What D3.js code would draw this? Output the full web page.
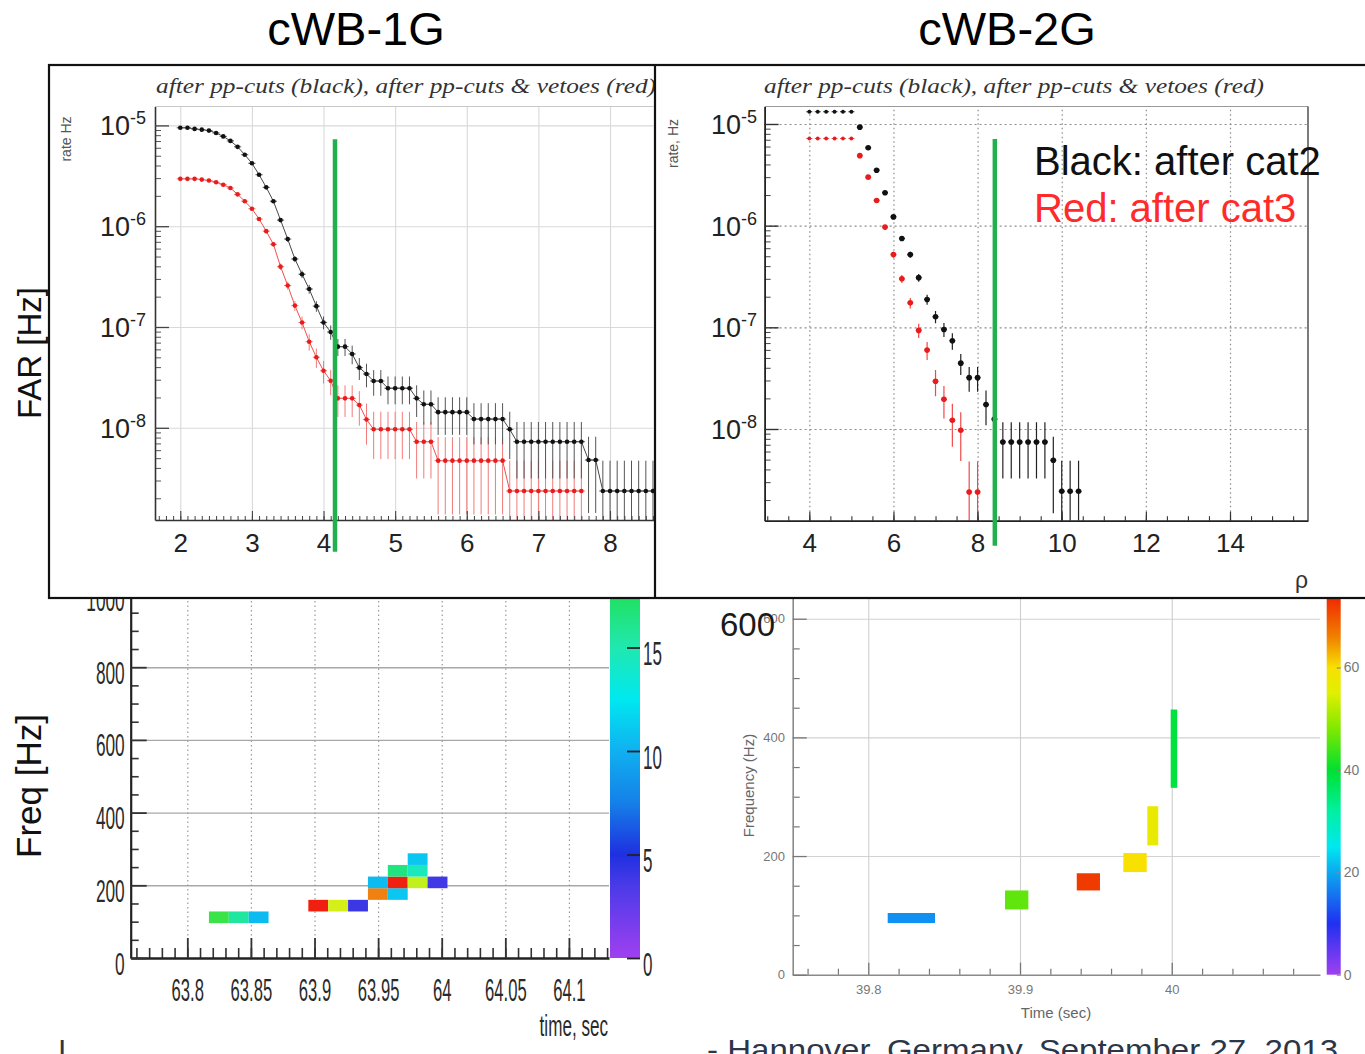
<!DOCTYPE html>
<html><head><meta charset="utf-8">
<script src="https://cdn.jsdelivr.net/npm/d3@7/dist/d3.min.js"></script>
<style>html,body{margin:0;padding:0;background:#fff;} svg{display:block;}</style>
</head><body>
<svg id="chart" width="1365" height="1054" xmlns="http://www.w3.org/2000/svg"></svg>
<script>
// ================= DATA =================
// --- cWB-1G FAR vs rho (bins of 0.1) ---
const rho1G = [2.0,2.1,2.2,2.3,2.4,2.5,2.6,2.7,2.8,2.9,3.0,3.1,3.2,3.3,3.4,3.5,3.6,3.7,3.8,3.9,
  4.0,4.1,4.2,4.3,4.4,4.5,4.6,4.7,4.8,4.9,5.0,5.1,5.2,5.3,5.4,5.5,5.6,5.7,5.8,5.9,
  6.0,6.1,6.2,6.3,6.4,6.5,6.6,6.7,6.8,6.9,7.0,7.1,7.2,7.3,7.4,7.5,7.6,7.7,7.8,7.9,
  8.0,8.1,8.2,8.3,8.4,8.5,8.6];
const black1G = [9.47e-6,9.47e-6,9.23e-6,9.08e-6,8.88e-6,8.41e-6,7.78e-6,7.02e-6,6.13e-6,5.12e-6,
  4.21e-6,3.24e-6,2.43e-6,1.77e-6,1.15e-6,7.45e-7,4.73e-7,3.34e-7,2.38e-7,1.61e-7,
  1.11e-7,8.91e-8,6.38e-8,6.38e-8,5.4e-8,3.95e-8,3.42e-8,2.91e-8,2.91e-8,2.47e-8,
  2.47e-8,2.47e-8,2.47e-8,1.96e-8,1.71e-8,1.71e-8,1.43e-8,1.43e-8,1.43e-8,1.43e-8,
  1.43e-8,1.22e-8,1.22e-8,1.22e-8,1.22e-8,1.22e-8,9.66e-9,7.28e-9,7.28e-9,7.28e-9,
  7.28e-9,7.28e-9,7.28e-9,7.28e-9,7.28e-9,7.28e-9,7.28e-9,4.79e-9,4.79e-9,2.36e-9,
  2.36e-9,2.36e-9,2.36e-9,2.36e-9,2.36e-9,2.36e-9,2.36e-9];
const black1GErr = [1.5e-7,1.5e-7,1.5e-7,1.5e-7,1.5e-7,1.4e-7,1.35e-7,1.3e-7,1.2e-7,1.1e-7,
  1.0e-7,8.7e-8,7.6e-8,6.5e-8,5.2e-8,4.2e-8,3.3e-8,2.8e-8,2.4e-8,1.95e-8,
  1.62e-8,1.45e-8,1.23e-8,1.23e-8,1.13e-8,9.7e-9,9.0e-9,8.3e-9,8.3e-9,7.6e-9,
  7.6e-9,7.6e-9,7.6e-9,6.8e-9,6.35e-9,6.35e-9,5.8e-9,5.8e-9,5.8e-9,5.8e-9,
  5.8e-9,5.35e-9,5.35e-9,5.35e-9,5.35e-9,5.35e-9,4.77e-9,4.14e-9,4.14e-9,4.14e-9,
  4.14e-9,4.14e-9,4.14e-9,4.14e-9,4.14e-9,4.14e-9,4.14e-9,3.36e-9,3.36e-9,2.36e-9,
  2.36e-9,2.36e-9,2.36e-9,2.36e-9,2.36e-9,2.36e-9,2.36e-9];
const rhoRed1G = rho1G.slice(0, 57);
const red1G = [2.95e-6,2.95e-6,2.95e-6,2.9e-6,2.84e-6,2.73e-6,2.58e-6,2.39e-6,2.07e-6,1.77e-6,
  1.49e-6,1.18e-6,8.93e-7,6.62e-7,3.97e-7,2.58e-7,1.63e-7,1.11e-7,7.15e-8,5.01e-8,
  3.68e-8,2.93e-8,1.96e-8,1.96e-8,1.96e-8,1.68e-8,1.21e-8,9.66e-9,9.66e-9,9.66e-9,
  9.66e-9,9.66e-9,9.66e-9,7.28e-9,7.28e-9,7.28e-9,4.72e-9,4.72e-9,4.72e-9,4.72e-9,
  4.72e-9,4.72e-9,4.72e-9,4.72e-9,4.72e-9,4.72e-9,2.36e-9,2.36e-9,2.36e-9,2.36e-9,
  2.36e-9,2.36e-9,2.36e-9,2.36e-9,2.36e-9,2.36e-9,2.36e-9];
const red1GErr = [8e-8,8e-8,8e-8,8e-8,8e-8,8e-8,7.5e-8,7.2e-8,6.7e-8,6.1e-8,
  5.6e-8,5e-8,4.3e-8,3.7e-8,2.9e-8,2.3e-8,1.85e-8,1.62e-8,1.3e-8,1.09e-8,
  9.3e-9,8.3e-9,6.8e-9,6.8e-9,6.8e-9,6.3e-9,5.3e-9,4.77e-9,4.77e-9,4.77e-9,
  4.77e-9,4.77e-9,4.77e-9,4.14e-9,4.14e-9,4.14e-9,3.34e-9,3.34e-9,3.34e-9,3.34e-9,
  3.34e-9,3.34e-9,3.34e-9,3.34e-9,3.34e-9,3.34e-9,2.36e-9,2.36e-9,2.36e-9,2.36e-9,
  2.36e-9,2.36e-9,2.36e-9,2.36e-9,2.36e-9,2.36e-9,2.36e-9];
const xTicks1G = [2,3,4,5,6,7,8];
const threshold1G = 4.16;              // green line position (rho)
const greenSpan1G = [7.3e-6, 5.9e-10]; // green line top / bottom (rate)

// --- cWB-2G FAR vs rho (bins of 0.2) ---
const rho2G = [4.0,4.2,4.4,4.6,4.8,5.0,5.2,5.4,5.6,5.8,6.0,6.2,6.4,6.6,6.8,7.0,7.2,7.4,7.6,7.8,
  8.0,8.2,8.4,8.6,8.8,9.0,9.2,9.4,9.6,9.8,10.0,10.2,10.4];
const black2G = [1.32e-5,1.32e-5,1.32e-5,1.32e-5,1.32e-5,1.32e-5,9.31e-6,5.83e-6,3.51e-6,2.11e-6,
  1.22e-6,7.48e-7,5.19e-7,3.08e-7,1.88e-7,1.27e-7,9.53e-8,7.38e-8,4.44e-8,3.2e-8,
  3.2e-8,1.74e-8,1.25e-8,7.46e-9,7.46e-9,7.46e-9,7.46e-9,7.46e-9,7.46e-9,4.93e-9,
  2.44e-9,2.44e-9,2.44e-9];
const black2GErr = [1.8e-7,1.8e-7,1.8e-7,1.8e-7,1.8e-7,1.8e-7,1.5e-7,1.19e-7,9.3e-8,7.2e-8,
  5.5e-8,4.3e-8,3.56e-8,2.74e-8,2.14e-8,1.76e-8,1.52e-8,1.35e-8,1.04e-8,8.8e-9,
  8.8e-9,6.5e-9,5.5e-9,4.2e-9,4.2e-9,4.2e-9,4.2e-9,4.2e-9,4.2e-9,3.45e-9,
  2.44e-9,2.44e-9,2.44e-9];
const rhoRed2G = rho2G.slice(0, 21);
const red2G = [7.2e-6,7.2e-6,7.2e-6,7.2e-6,7.2e-6,7.2e-6,4.88e-6,3.0e-6,1.77e-6,9.68e-7,
  5.19e-7,3.0e-7,1.74e-7,9.33e-8,5.97e-8,2.95e-8,1.96e-8,1.22e-8,9.73e-9,2.4e-9,2.4e-9];
const red2GErr = [1.3e-7,1.3e-7,1.3e-7,1.3e-7,1.3e-7,1.3e-7,1.1e-7,8.6e-8,6.6e-8,4.9e-8,
  3.6e-8,2.7e-8,2.07e-8,1.5e-8,1.2e-8,8.5e-9,6.9e-9,5.5e-9,4.9e-9,2.4e-9,2.4e-9];
const xTicks2G = [4,6,8,10,12,14];
const threshold2G = 8.41;
const greenSpan2G = [7.1e-6, 7.1e-10];

const yExps = [-5,-6,-7,-8];

// --- cWB-1G spectrogram (tiles 1/64 s x 32 Hz) ---
const tileDt1G = 0.015625, tileDf1G = 32;
const specT1G = [63.8170,63.83263,63.84825, 63.89513,63.91075,63.92638,
  63.9420,63.9420, 63.95763,63.95763,63.95763, 63.97325,63.97325,63.97325, 63.98888];
const specF1G = [96,96,96, 128,128,128, 160,192, 160,192,224, 192,224,256, 192];
const specZ1G = [18.5,15.5,10.5, 29,22.5,4, 26.5,10.5, 11,29,16.5, 21.5,14.5,11, 3.8];
const timeTicks1G = [63.8,63.85,63.9,63.95,64.0,64.05,64.1];
const timeLabels1G = ['63.8','63.85','63.9','63.95','64','64.05','64.1'];
const freqTicks1G = [0,200,400,600,800,1000];
const cbTicks1G = [0,5,10,15];
const pal1Stops = [0,3.5,5,7.5,10,12.5,15,18,21,24,26.5,29,32];
const pal1Colors = ['#a040f0','#4a3ae8','#1e30e0','#1580e8','#10b0f0','#00e8f0','#20e8b0','#20e050','#b8f020','#f0f010','#f08010','#f02010','#f02010'];

// --- cWB-2G spectrogram (multi-resolution tiles) ---
const specT0_2G = [39.8128,39.8901,39.9374,39.9681,39.9839,39.9993];
const specT1_2G = [39.8440,39.9055,39.9527,39.9835,39.9911,40.0036];
const specF0_2G = [87,110,142,173,218,315];
const specF1_2G = [104,142,171,205,284,447];
const specZ2G = [18,46,72,60,57,39];
const timeTicks2G = [39.8,39.9,40.0];
const timeLabels2G = ['39.8','39.9','40'];
const freqTicks2G = [0,200,400,600];
const cbTicks2G = [0,20,40,60];
const pal2Stops = [0,10,18,25,32,40,48,55,60,66,73,76];
const pal2Colors = ['#a040f0','#2030f0','#1090f0','#00e8f0','#00f0a0','#00e030','#80e800','#e0f000','#f8e000','#f08000','#f03000','#f02000'];

// ================= DRAW =================
const SANS = "'Liberation Sans', Arial, Helvetica, sans-serif";
const SERIF = "'Liberation Serif', 'Times New Roman', serif";
const GREEN = '#22b04e';
const svg = d3.select('#chart');
svg.append('rect').attr('width',1365).attr('height',1054).attr('fill','#fff');
const defs = svg.append('defs');

function cleanAxis(g, color, w) {
  g.select('.domain').remove();
  g.selectAll('.tick line').attr('stroke', color).attr('stroke-width', w);
}

// ---------- bottom-left spectrogram ----------
const x3 = d3.scaleLinear().domain([63.7555, 64.1315]).range([130.7, 609]);
const y3 = d3.scaleLinear().domain([0, 1000]).range([958, 594.5]);
const pal1 = d3.scaleLinear().domain(pal1Stops).range(pal1Colors).clamp(true);
const BL = svg.append('g');
BL.append('g').attr('transform','translate(130.7,0)')
  .call(d3.axisLeft(y3).tickValues(freqTicks1G.slice(1,5)).tickSize(-(609-130.7)).tickFormat(''))
  .call(g=>cleanAxis(g,'#a8a8a8',1.4));
BL.append('g').attr('transform','translate(0,958)')
  .call(d3.axisBottom(x3).tickValues(timeTicks1G).tickSize(-(958-594.5)).tickFormat(''))
  .call(g=>{cleanAxis(g,'#9a9a9a',1.2); g.selectAll('.tick line').attr('stroke-dasharray','1.5,3');});
BL.selectAll('rect.cell').data(specZ1G).join('rect').attr('class','cell')
  .attr('x',(d,i)=>x3(specT1G[i])).attr('width',(d,i)=>x3(specT1G[i]+tileDt1G)-x3(specT1G[i]))
  .attr('y',(d,i)=>y3(specF1G[i]+tileDf1G)).attr('height',(d,i)=>y3(specF1G[i])-y3(specF1G[i]+tileDf1G))
  .attr('fill',d=>pal1(d));
// minor x ticks
BL.append('g').attr('transform','translate(0,958)')
  .call(d3.axisBottom(x3).tickValues(d3.range(6376,6414).map(d=>d/100)).tickSize(-10).tickFormat(''))
  .call(g=>cleanAxis(g,'#333',1.6));
const gx3 = BL.append('g').attr('transform','translate(0,958)')
  .call(d3.axisBottom(x3).tickValues(timeTicks1G).tickSize(-20).tickSizeOuter(0).tickPadding(20).tickFormat((d,i)=>timeLabels1G[i]));
gx3.select('.domain').attr('stroke','#222').attr('stroke-width',2.4);
gx3.selectAll('.tick line').attr('stroke','#333').attr('stroke-width',1.8);
gx3.selectAll('text').attr('font-size',32).attr('font-family',SANS).attr('fill','#2a2a2a').attr('transform','scale(0.52,1)');
// y minor
BL.append('g').attr('transform','translate(130.7,0)')
  .call(d3.axisLeft(y3).tickValues(d3.range(1,20).map(d=>d*50).filter(d=>d%200)).tickSize(-8).tickFormat(''))
  .call(g=>cleanAxis(g,'#333',1.6));
const gy3 = BL.append('g').attr('transform','translate(130.7,0)')
  .call(d3.axisLeft(y3).tickValues(freqTicks1G).tickSize(-16).tickSizeOuter(0).tickFormat(d=>d));
gy3.select('.domain').attr('stroke','#222').attr('stroke-width',2.2);
gy3.selectAll('.tick line').attr('stroke','#333').attr('stroke-width',1.8);
gy3.selectAll('text').attr('font-size',32).attr('font-family',SANS).attr('fill','#2a2a2a')
  .attr('x',-6/0.54).attr('dy','0.5em').attr('transform','scale(0.54,1)');
// colorbar
const cb1Max = pal1Stops[pal1Stops.length-1];
const cb1 = d3.scaleLinear().domain([0, cb1Max]).range([958, 958-cb1Max*20.7]);
const grad1 = defs.append('linearGradient').attr('id','grad1').attr('gradientUnits','userSpaceOnUse')
  .attr('x1',0).attr('x2',0).attr('y1',cb1(0)).attr('y2',cb1(cb1Max));
grad1.selectAll('stop').data(pal1Stops).join('stop').attr('offset',d=>d/cb1Max).attr('stop-color',(d,i)=>pal1Colors[i]);
BL.append('rect').attr('x',610).attr('width',30).attr('y',cb1(cb1Max)).attr('height',cb1(0)-cb1(cb1Max)).attr('fill','url(#grad1)');
const gcb1 = BL.append('g').attr('transform','translate(640,0)')
  .call(d3.axisRight(cb1).tickValues(cbTicks1G).tickSize(-13).tickSizeOuter(0).tickPadding(3));
gcb1.select('.domain').remove();
gcb1.selectAll('.tick line').attr('stroke','#222').attr('stroke-width',1.8);
gcb1.selectAll('text').attr('font-size',34).attr('font-family',SANS).attr('fill','#2a2a2a')
  .attr('x',3/0.5).attr('dy','0.5em').attr('transform','scale(0.5,1)');
BL.append('text').attr('transform','translate(608,1036) scale(0.57,1)').attr('text-anchor','end')
  .attr('font-size',30).attr('font-family',SANS).attr('fill','#2a2a2a').text('time, sec');
svg.append('text').attr('transform','translate(41,786) rotate(-90)').attr('text-anchor','middle')
  .attr('font-size',35).attr('font-family',SANS).attr('fill','#111').text('Freq [Hz]');

// ---------- bottom-right spectrogram ----------
const x4 = d3.scaleLinear().domain([39.7502, 40.0977]).range([792.7, 1320]);
const y4 = d3.scaleLinear().domain([0, 640]).range([974.7, 595.0]);
const pal2 = d3.scaleLinear().domain(pal2Stops).range(pal2Colors).clamp(true);
const BR = svg.append('g');
BR.append('g').attr('transform','translate(792.7,0)')
  .call(d3.axisLeft(y4).tickValues(freqTicks2G.slice(1)).tickSize(-(1320-792.7)).tickFormat(''))
  .call(g=>cleanAxis(g,'#d2d2d2',1.1));
BR.append('g').attr('transform','translate(0,974.7)')
  .call(d3.axisBottom(x4).tickValues(timeTicks2G).tickSize(-(974.7-595)).tickFormat(''))
  .call(g=>cleanAxis(g,'#cfcfcf',1.1));
BR.selectAll('rect.cell').data(specZ2G).join('rect').attr('class','cell')
  .attr('x',(d,i)=>x4(specT0_2G[i])).attr('width',(d,i)=>x4(specT1_2G[i])-x4(specT0_2G[i]))
  .attr('y',(d,i)=>y4(specF1_2G[i])).attr('height',(d,i)=>y4(specF0_2G[i])-y4(specF1_2G[i]))
  .attr('fill',d=>pal2(d));
BR.append('g').attr('transform','translate(0,974.7)')
  .call(d3.axisBottom(x4).tickValues(d3.range(1988,2005).map(d=>d/50).filter(d=>Math.abs(d*10-Math.round(d*10))>1e-6)).tickSize(-6).tickFormat(''))
  .call(g=>cleanAxis(g,'#777',1.2));
const gx4 = BR.append('g').attr('transform','translate(0,974.7)')
  .call(d3.axisBottom(x4).tickValues(timeTicks2G).tickSize(-12).tickSizeOuter(0).tickPadding(10).tickFormat((d,i)=>timeLabels2G[i]));
gx4.select('.domain').attr('stroke','#8a8a8a').attr('stroke-width',1.6);
gx4.selectAll('.tick line').attr('stroke','#777').attr('stroke-width',1.3);
gx4.selectAll('text').attr('font-size',13).attr('font-family',SANS).attr('fill','#777');
BR.append('g').attr('transform','translate(792.7,0)')
  .call(d3.axisLeft(y4).tickValues(d3.range(1,13).map(d=>d*50).filter(d=>d%200)).tickSize(-7).tickFormat(''))
  .call(g=>cleanAxis(g,'#777',1.2));
const gy4 = BR.append('g').attr('transform','translate(792.7,0)')
  .call(d3.axisLeft(y4).tickValues(freqTicks2G).tickSize(-14).tickSizeOuter(0).tickPadding(7.7).tickFormat(d=>d));
gy4.select('.domain').attr('stroke','#8a8a8a').attr('stroke-width',1.6);
gy4.selectAll('.tick line').attr('stroke','#777').attr('stroke-width',1.3);
gy4.selectAll('text').attr('font-size',13).attr('font-family',SANS).attr('fill','#777');
const cb2Max = pal2Stops[pal2Stops.length-1];
const cb2 = d3.scaleLinear().domain([0, cb2Max]).range([974.7, 974.7-cb2Max*5.12]);
const grad2 = defs.append('linearGradient').attr('id','grad2').attr('gradientUnits','userSpaceOnUse')
  .attr('x1',0).attr('x2',0).attr('y1',cb2(0)).attr('y2',cb2(cb2Max));
grad2.selectAll('stop').data(pal2Stops).join('stop').attr('offset',d=>d/cb2Max).attr('stop-color',(d,i)=>pal2Colors[i]);
BR.append('rect').attr('x',1326.7).attr('width',14).attr('y',cb2(cb2Max)).attr('height',cb2(0)-cb2(cb2Max)).attr('fill','url(#grad2)');
const gcb2 = BR.append('g').attr('transform','translate(1340.7,0)')
  .call(d3.axisRight(cb2).tickValues(cbTicks2G).tickSize(-4).tickSizeOuter(0).tickPadding(3));
gcb2.select('.domain').remove();
gcb2.selectAll('.tick line').attr('stroke','#888').attr('stroke-width',1.2);
gcb2.selectAll('text').attr('font-size',14).attr('font-family',SANS).attr('fill','#777');
BR.append('text').attr('transform','translate(754,785.5) rotate(-90)').attr('text-anchor','middle')
  .attr('font-size',15).attr('font-family',SANS).attr('fill','#666').text('Frequency (Hz)');
BR.append('text').attr('x',1056).attr('y',1018).attr('text-anchor','middle')
  .attr('font-size',15).attr('font-family',SANS).attr('fill','#666').text('Time (sec)');
BR.append('text').attr('x',720).attr('y',636).attr('font-size',33).attr('font-family',SANS)
  .attr('fill','#1a1a1a').text('600');

// bottom caption (cut off at the page edge)
svg.append('text').attr('x',707).attr('y',1060).attr('font-size',30).attr('font-family',SANS)
  .attr('fill','#2b3648').attr('textLength',631).attr('lengthAdjust','spacingAndGlyphs')
  .text('- Hannover, Germany, September 27, 2013');
svg.append('text').attr('x',58).attr('y',1060).attr('font-size',30).attr('font-family',SANS)
  .attr('fill','#2b3648').text('I');

// ---------- top box ----------
svg.append('rect').attr('x',49).attr('y',65).attr('width',1330).attr('height',533)
  .attr('fill','#fff').attr('stroke','#111').attr('stroke-width',2.2);
svg.append('line').attr('x1',655).attr('x2',655).attr('y1',65).attr('y2',598).attr('stroke','#111').attr('stroke-width',2.2);

defs.append('clipPath').attr('id','panelTL').append('rect').attr('x',50).attr('y',66).attr('width',604).attr('height',531);
defs.append('clipPath').attr('id','plotTL').append('rect').attr('x',155).attr('y',104).attr('width',499).attr('height',416);
defs.append('clipPath').attr('id','plotTR').append('rect').attr('x',764.6).attr('y',104).attr('width',543.4).attr('height',416.7);

function drawSeries(g, xs, ys, errs, xS, yS, o) {
  const pts = xs.map((x,i)=>({x, y: ys[i], e: errs[i], i}));
  const yBot = yS.range()[0], yMin = yS.domain()[0];
  if (o.line) g.append('path').datum(pts)
    .attr('d', d3.line().x(d=>xS(d.x)).y(d=>yS(d.y)))
    .attr('fill','none').attr('stroke',o.line).attr('stroke-width',o.lw);
  g.selectAll(null).data(pts).join('line')
    .attr('x1',d=>xS(d.x)).attr('x2',d=>xS(d.x))
    .attr('y1',d=>yS(d.y+d.e)).attr('y2',d=> (d.y-d.e) > yMin ? yS(d.y-d.e) : yBot)
    .attr('stroke',o.err).attr('stroke-width',o.ew);
  g.selectAll(null).data(pts).join('line')
    .attr('x1',d=>xS(d.x-o.hw)).attr('x2',d=>xS(d.x+o.hw))
    .attr('y1',d=>yS(d.y)).attr('y2',d=>yS(d.y))
    .attr('stroke',o.err).attr('stroke-width',o.ew);
  g.selectAll(null).data(pts).join('circle')
    .attr('cx',d=>xS(d.x)).attr('cy',d=>yS(d.y)).attr('r',d=>o.r(d.i)).attr('fill',o.fill);
}
function logLabels(g, yS, xEnd) {
  g.selectAll(null).data(yExps).join('text')
    .attr('x',xEnd).attr('y',e=>yS(Math.pow(10,e))+10).attr('text-anchor','end')
    .attr('font-family',SANS).attr('fill','#222')
    .each(function(e){
      const t = d3.select(this);
      t.append('tspan').attr('font-size',27).text('10');
      t.append('tspan').attr('font-size',18).attr('dy',-11).text(String(e));
    });
}

// ---------- top-left: cWB-1G ----------
const x1 = d3.scaleLinear().domain([1.647, 8.628]).range([155, 655]);
const y1 = d3.scaleLog().domain([1.217e-9, 1.54e-5]).range([520, 106.5]);
const TL = svg.append('g').attr('clip-path','url(#panelTL)');
TL.append('g').attr('transform','translate(0,520)')
  .call(d3.axisBottom(x1).tickValues(xTicks1G).tickSize(-(520-106.5)).tickFormat(''))
  .call(g=>cleanAxis(g,'#d9d9d9',1.1));
TL.append('g').attr('transform','translate(155,0)')
  .call(d3.axisLeft(y1).tickValues(yExps.map(e=>Math.pow(10,e))).tickSize(-500).tickFormat(''))
  .call(g=>cleanAxis(g,'#d9d9d9',1.1));
TL.append('line').attr('x1',155).attr('x2',655).attr('y1',y1.range()[1]).attr('y2',y1.range()[1]).attr('stroke','#c8c8c8').attr('stroke-width',1.2);
const TLdata = TL.append('g').attr('clip-path','url(#plotTL)');
drawSeries(TLdata.append('g'), rhoRed1G, red1G, red1GErr, x1, y1,
  {line:'#f03a3a', lw:0.9, err:'#f27a7a', ew:1, hw:0.05, r:()=>2.3, fill:'#e81c1c'});
drawSeries(TLdata.append('g'), rho1G, black1G, black1GErr, x1, y1,
  {line:'#333', lw:0.9, err:'#555', ew:1, hw:0.05, r:()=>2.3, fill:'#111'});
TL.append('g').attr('transform','translate(0,520)')
  .call(d3.axisBottom(x1).tickValues(d3.range(17,87).map(d=>d/10)).tickSize(-4).tickFormat(''))
  .call(g=>cleanAxis(g,'#444',1));
const gx1 = TL.append('g').attr('transform','translate(0,520)')
  .call(d3.axisBottom(x1).tickValues(xTicks1G).tickSize(-9).tickSizeOuter(0).tickPadding(13.5).tickFormat(d3.format('d')));
gx1.select('.domain').attr('stroke','#333').attr('stroke-width',1.6);
gx1.selectAll('.tick line').attr('stroke','#444').attr('stroke-width',1.1);
gx1.selectAll('text').attr('font-size',26).attr('font-family',SANS).attr('fill','#222');
TL.append('g').attr('transform','translate(155,0)')
  .call(d3.axisLeft(y1).tickValues(y1.ticks().filter(v=>Math.abs(Math.log10(v)-Math.round(Math.log10(v)))>1e-6)).tickSize(-6).tickFormat(''))
  .call(g=>cleanAxis(g,'#555',1));
const gy1 = TL.append('g').attr('transform','translate(155,0)')
  .call(d3.axisLeft(y1).tickValues(yExps.map(e=>Math.pow(10,e))).tickSize(-14).tickSizeOuter(0).tickFormat(''));
gy1.select('.domain').attr('stroke','#333').attr('stroke-width',1.6);
gy1.selectAll('.tick line').attr('stroke','#444').attr('stroke-width',1.3);
logLabels(TL, y1, 146);
TL.append('text').attr('transform','translate(71,139) rotate(-90)').attr('text-anchor','middle')
  .attr('font-size',14).attr('font-family',SANS).attr('fill','#555').text('rate Hz');
TL.append('text').attr('x',156).attr('y',93).attr('font-size',21).attr('font-family',SERIF)
  .attr('font-style','italic').attr('fill','#333').attr('textLength',500).attr('lengthAdjust','spacingAndGlyphs')
  .text('after pp-cuts (black), after pp-cuts & vetoes (red)');
TL.append('line').attr('x1',x1(threshold1G)).attr('x2',x1(threshold1G))
  .attr('y1',y1(greenSpan1G[0])).attr('y2',y1(greenSpan1G[1]))
  .attr('stroke',GREEN).attr('stroke-width',4.5);

// ---------- top-right: cWB-2G ----------
const x2 = d3.scaleLinear().domain([2.937, 15.854]).range([764.6, 1308]);
const y2 = d3.scaleLog().domain([1.253e-9, 1.486e-5]).range([520.7, 106.5]);
const TR = svg.append('g');
TR.append('g').attr('transform','translate(0,520.7)')
  .call(d3.axisBottom(x2).tickValues(xTicks2G).tickSize(-(520.7-106.5)).tickFormat(''))
  .call(g=>{cleanAxis(g,'#8c8c8c',1.2); g.selectAll('.tick line').attr('stroke-dasharray','1.5,3');});
TR.append('g').attr('transform','translate(764.6,0)')
  .call(d3.axisLeft(y2).tickValues(yExps.map(e=>Math.pow(10,e))).tickSize(-(1308-764.6)).tickFormat(''))
  .call(g=>{cleanAxis(g,'#8c8c8c',1.2); g.selectAll('.tick line').attr('stroke-dasharray','2,3');});
TR.append('line').attr('x1',764.6).attr('x2',1308).attr('y1',106.5).attr('y2',106.5).attr('stroke','#999').attr('stroke-width',1.2);
TR.append('line').attr('x1',1308).attr('x2',1308).attr('y1',106.5).attr('y2',520.7).attr('stroke','#444').attr('stroke-width',1.4);
const TRdata = TR.append('g').attr('clip-path','url(#plotTR)');
drawSeries(TRdata.append('g'), rhoRed2G, red2G, red2GErr, x2, y2,
  {line:null, err:'#f04848', ew:1.2, hw:0.07, r:i=> i<6 ? 1.9 : 2.8, fill:'#e81c1c'});
drawSeries(TRdata.append('g'), rho2G, black2G, black2GErr, x2, y2,
  {line:null, err:'#222', ew:1.2, hw:0.07, r:i=> i<6 ? 1.9 : 2.8, fill:'#111'});
TR.append('g').attr('transform','translate(0,520.7)')
  .call(d3.axisBottom(x2).tickValues(d3.range(6,32).map(d=>d/2)).tickSize(-4.5).tickFormat(''))
  .call(g=>cleanAxis(g,'#333',1.1));
const gx2 = TR.append('g').attr('transform','translate(0,520.7)')
  .call(d3.axisBottom(x2).tickValues(xTicks2G).tickSize(-9).tickSizeOuter(0).tickPadding(13).tickFormat(d3.format('d')));
gx2.select('.domain').attr('stroke','#222').attr('stroke-width',1.8);
gx2.selectAll('.tick line').attr('stroke','#333').attr('stroke-width',1.2);
gx2.selectAll('text').attr('font-size',26).attr('font-family',SANS).attr('fill','#222');
TR.append('g').attr('transform','translate(764.6,0)')
  .call(d3.axisLeft(y2).tickValues(y2.ticks().filter(v=>Math.abs(Math.log10(v)-Math.round(Math.log10(v)))>1e-6)).tickSize(-6).tickFormat(''))
  .call(g=>cleanAxis(g,'#444',1));
const gy2 = TR.append('g').attr('transform','translate(764.6,0)')
  .call(d3.axisLeft(y2).tickValues(yExps.map(e=>Math.pow(10,e))).tickSize(-14).tickSizeOuter(0).tickFormat(''));
gy2.select('.domain').attr('stroke','#222').attr('stroke-width',1.8);
gy2.selectAll('.tick line').attr('stroke','#333').attr('stroke-width',1.4);
logLabels(TR, y2, 757);
TR.append('text').attr('transform','translate(678,143.5) rotate(-90)').attr('text-anchor','middle')
  .attr('font-size',14).attr('font-family',SANS).attr('fill','#555').text('rate, Hz');
TR.append('text').attr('x',764).attr('y',93).attr('font-size',21).attr('font-family',SERIF)
  .attr('font-style','italic').attr('fill','#333').attr('textLength',500).attr('lengthAdjust','spacingAndGlyphs')
  .text('after pp-cuts (black), after pp-cuts & vetoes (red)');
TR.append('text').attr('x',1295).attr('y',588).attr('font-size',23).attr('font-family',SANS).attr('fill','#333').text('ρ');
TR.append('line').attr('x1',x2(threshold2G)).attr('x2',x2(threshold2G))
  .attr('y1',y2(greenSpan2G[0])).attr('y2',y2(greenSpan2G[1]))
  .attr('stroke',GREEN).attr('stroke-width',4.5);
TR.append('text').attr('x',1034).attr('y',175).attr('font-size',40).attr('font-family',SANS).attr('fill','#111').text('Black: after cat2');
TR.append('text').attr('x',1034).attr('y',222).attr('font-size',40).attr('font-family',SANS).attr('fill','#ff2b2b').text('Red: after cat3');

// ---------- outer labels ----------
svg.append('text').attr('transform','translate(41,353) rotate(-90)').attr('text-anchor','middle')
  .attr('font-size',33).attr('font-family',SANS).attr('fill','#111').text('FAR [Hz]');
svg.append('text').attr('x',356).attr('y',45).attr('text-anchor','middle')
  .attr('font-size',47).attr('font-family',SANS).attr('fill','#000').text('cWB-1G');
svg.append('text').attr('x',1007).attr('y',45).attr('text-anchor','middle')
  .attr('font-size',47).attr('font-family',SANS).attr('fill','#000').text('cWB-2G');
</script>
</body></html>
